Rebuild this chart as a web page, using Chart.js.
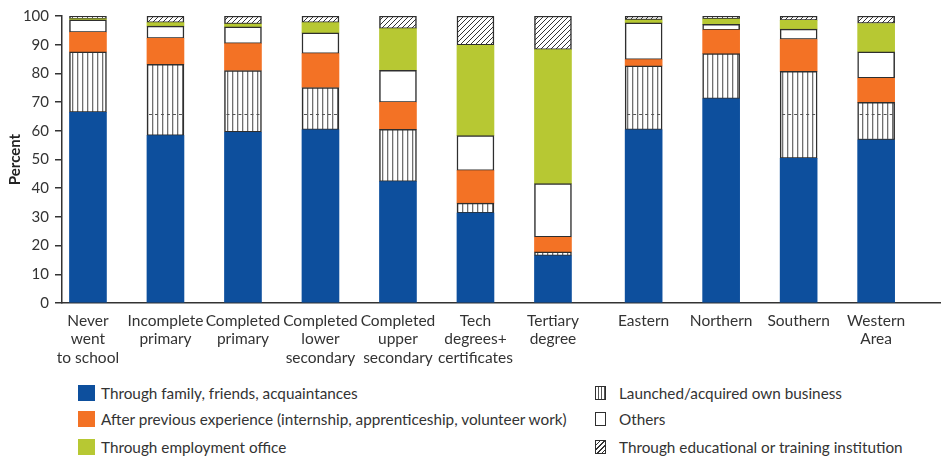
<!DOCTYPE html>
<html><head><meta charset="utf-8">
<script src="https://cdn.jsdelivr.net/npm/chart.js@4.4.1/dist/chart.umd.min.js"></script>
<style>
html,body{margin:0;padding:0;background:#fff;}
#wrap{position:relative;width:943px;height:459px;overflow:hidden;font-family:Lato,'Liberation Sans',sans-serif;color:#333;}
#c{position:absolute;left:0;top:0;}
.lg{position:absolute;height:20px;display:flex;align-items:center;font-size:15.3px;white-space:nowrap;}
.sw{display:inline-block;box-sizing:border-box;flex:none;}
</style></head><body>
<div id="wrap"><canvas id="c" width="943" height="372"></canvas><div id="legend"></div></div>
<script>
// ---- data ----
const categories = [["Never","went","to school"],["Incomplete","primary"],["Completed","primary"],["Completed","lower","secondary"],["Completed","upper","secondary"],["Tech","degrees+","certificates"],["Tertiary","degree"],["Eastern"],["Northern"],["Southern"],["Western","Area"]];
const family           = [66.4,58.3,59.5,60.3,42.3,31.3,16.4,60.3,71.1,50.4,56.8];
const ownBusiness      = [21.1,24.9,21.5,14.8,18.2, 3.5, 1.4,22.3,15.8,30.3,13.1];
const prevExperience   = [ 6.8, 9.0, 9.4,11.8, 9.4,11.3, 5.1, 2.2, 8.2,11.1, 8.4];
const others           = [ 4.4, 4.3, 5.8, 7.2,11.2,12.2,18.7,12.8, 2.0, 3.6, 9.2];
const employmentOffice = [ 0.3, 1.2, 1.0, 3.6,14.5,31.5,46.7, 1.0, 1.8, 3.1, 9.9];
const education        = [ 1.0, 2.3, 2.8, 2.3, 4.4,10.2,11.7, 1.4, 1.1, 1.5, 2.6];
const yTicks = [0,10,20,30,40,50,60,70,80,90,100];
const seriesNames = ["Through family, friends, acquaintances","Launched/acquired own business","After previous experience (internship, apprenticeship, volunteer work)","Others","Through employment office","Through educational or training institution"];
const regionStart = 7;
const artifactLevel = 66;

// ---- layout helpers ----
const groupGap = 0.17;
const xPos = categories.map((_, i) => i < regionStart ? i : i + groupGap);

const BLUE = '#0d4f9d', ORANGE = '#f37225', GREEN = '#b7c833', EDGE = '#2e2e2e';

function vlinePattern(){
  const c = document.createElement('canvas'); c.width = 5; c.height = 5;
  const g = c.getContext('2d');
  g.fillStyle = '#fff'; g.fillRect(0,0,5,5);
  g.fillStyle = '#707070'; g.fillRect(2,0,1.3,5);
  return document.getElementById('c').getContext('2d').createPattern(c,'repeat');
}
function hatchPattern(){
  const s = 5;
  const c = document.createElement('canvas'); c.width = s; c.height = s;
  const g = c.getContext('2d');
  g.fillStyle = '#fff'; g.fillRect(0,0,s,s);
  g.strokeStyle = '#333'; g.lineWidth = 1;
  g.beginPath();
  g.moveTo(0,s); g.lineTo(s,0);
  g.moveTo(-1,1); g.lineTo(1,-1);
  g.moveTo(s-1,s+1); g.lineTo(s+1,s-1);
  g.stroke();
  return document.getElementById('c').getContext('2d').createPattern(c,'repeat');
}

const mk = (arr) => arr.map((v,i) => ({x: xPos[i], y: v}));
const plain = {borderWidth:0, barThickness:37};
const boxed = {borderWidth:1.5, borderColor:EDGE, borderSkipped:false, barThickness:37};

const datasets = [
  Object.assign({label:seriesNames[0], data:mk(family), backgroundColor:BLUE}, plain),
  Object.assign({label:seriesNames[1], data:mk(ownBusiness), backgroundColor:vlinePattern()}, boxed),
  Object.assign({label:seriesNames[2], data:mk(prevExperience), backgroundColor:ORANGE}, plain),
  Object.assign({label:seriesNames[3], data:mk(others), backgroundColor:'#ffffff'}, boxed),
  Object.assign({label:seriesNames[4], data:mk(employmentOffice), backgroundColor:GREEN}, plain),
  Object.assign({label:seriesNames[5], data:mk(education), backgroundColor:hatchPattern()}, boxed)
];

const artifact = {
  id:'artifact',
  afterDatasetsDraw(chart){
    const ctx = chart.ctx, meta = chart.getDatasetMeta(1);
    const y = chart.scales.y.getPixelForValue(artifactLevel);
    ctx.save(); ctx.setLineDash([3,3]); ctx.strokeStyle = '#555'; ctx.lineWidth = 1;
    meta.data.forEach(el => {
      if (y > el.y + 1 && y < el.base - 1){
        ctx.beginPath(); ctx.moveTo(el.x - el.width/2 + 2, Math.round(y)+0.5);
        ctx.lineTo(el.x + el.width/2 - 2, Math.round(y)+0.5); ctx.stroke();
      }
    });
    ctx.restore();
  }
};

const FONT = "Lato, 'Liberation Sans', sans-serif";
new Chart(document.getElementById('c'), {
  type:'bar',
  data:{datasets},
  plugins:[artifact],
  options:{
    responsive:false, animation:false, devicePixelRatio:1,
    layout:{padding:{top:16,right:3,left:0,bottom:0}},
    plugins:{legend:{display:false}, tooltip:{enabled:false}},
    scales:{
      x:{
        type:'linear', stacked:true, offset:false,
        min:-0.335, max:10.994,
        afterBuildTicks(scale){ scale.ticks = xPos.map(v => ({value:v})); },
        afterFit(scale){ scale.height = 69; },
        ticks:{autoSkip:false, maxRotation:0, minRotation:0, padding:9, color:'#333',
          font:{family:FONT, size:15.5, lineHeight:1.18},
          callback:(v, i) => categories[i]},
        grid:{display:false, drawTicks:false, tickLength:0, offset:false},
        border:{display:true, color:'#333', width:1.5}
      },
      y:{
        stacked:true, min:0, max:100,
        afterBuildTicks(scale){ scale.ticks = yTicks.map(v => ({value:v})); },
        afterFit(scale){ scale.width = 62; },
        ticks:{padding:6, color:'#333', font:{family:FONT, size:15}},
        grid:{drawOnChartArea:false, drawTicks:true, tickLength:7, color:'#333', lineWidth:1.5},
        border:{display:true, color:'#333', width:1.5},
        title:{display:true, text:'Percent', color:'#222', padding:{top:6,bottom:0}, font:{family:FONT, size:15, weight:'bold'}}
      }
    }
  }
});

// ---- HTML legend ----
const legendItems = [
  {name:seriesNames[0], col:0, row:0, style:`background:${BLUE}`},
  {name:seriesNames[2], col:0, row:1, style:`background:${ORANGE}`},
  {name:seriesNames[4], col:0, row:2, style:`background:${GREEN}`},
  {name:seriesNames[1], col:1, row:0, style:`border:1.3px solid ${EDGE};background:repeating-linear-gradient(90deg,#fff 0,#fff 2px,#555 2px,#555 3.2px)`},
  {name:seriesNames[3], col:1, row:1, style:`border:1.3px solid ${EDGE};background:#fff`},
  {name:seriesNames[5], col:1, row:2, style:`border:1.3px solid ${EDGE};background:repeating-linear-gradient(135deg,#fff 0,#fff 2.2px,#333 2.2px,#333 3.3px)`}
];
const rowCenters = [393, 418.5, 446.5];
const lg = document.getElementById('legend');
legendItems.forEach(it => {
  const d = document.createElement('div'); d.className = 'lg';
  d.style.top = (rowCenters[it.row] - 10) + 'px';
  d.style.left = (it.col === 0 ? 78 : 595) + 'px';
  const s = document.createElement('span'); s.className = 'sw';
  if (it.col === 0){ s.style.cssText = `width:17px;height:16px;margin-right:6px;${it.style}`; }
  else { s.style.cssText = `width:11px;height:14px;margin-right:13px;${it.style}`; }
  const t = document.createElement('span'); t.textContent = it.name;
  d.appendChild(s); d.appendChild(t); lg.appendChild(d);
});
</script></body></html>
